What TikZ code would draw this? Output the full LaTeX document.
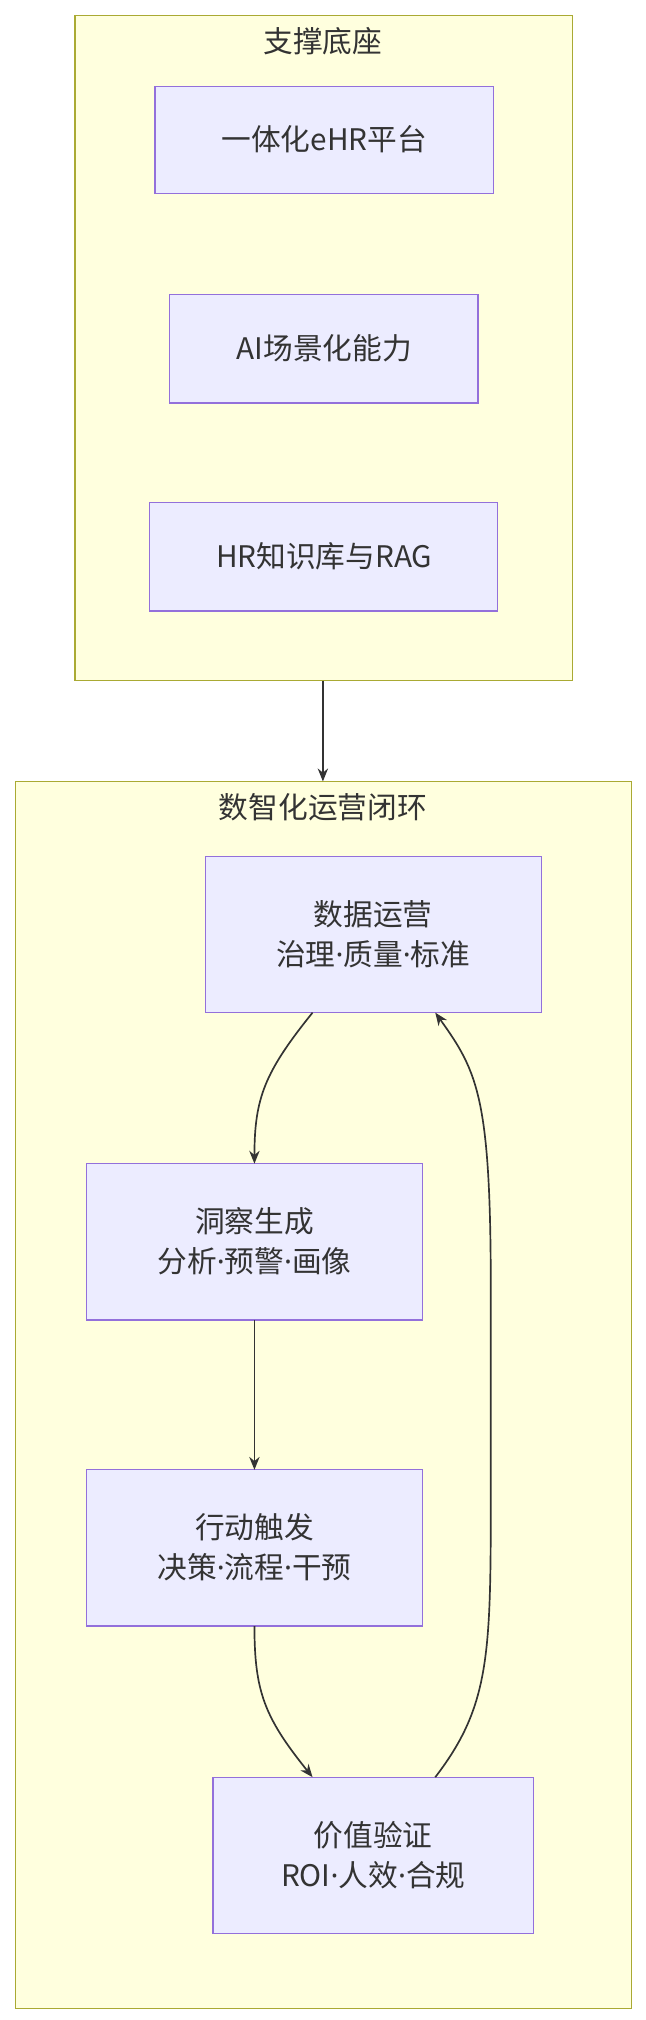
\documentclass[tikz,border=0pt]{standalone}
\usepackage{fontspec}
\setmainfont{Noto Sans CJK SC}
\newfontfamily\lsf{Noto Sans}
\newcommand{\dt}{{\lsf ·}}
\usetikzlibrary{arrows.meta}
\definecolor{cfill}{HTML}{FFFFDE}\definecolor{cline}{HTML}{AAAA33}
\definecolor{nfill}{HTML}{ECECFF}\definecolor{nline}{HTML}{9370DB}
\definecolor{tx}{HTML}{333333}
\begin{document}
\begin{tikzpicture}[x=1pt,y=-1pt,
 clu/.style={draw=cline,fill=cfill,line width=1pt},
 nd/.style={draw=nline,fill=nfill,line width=1pt},
 lab/.style={text=tx,font=\fontsize{23}{31}\selectfont,align=center},
 arr/.style={draw=tx,line width=1.3pt,-{Stealth[length=10pt,width=8pt]}}]
\useasboundingbox (0,0) rectangle (500,1564);
\draw[clu] (58,12) rectangle (443,527);
\node[lab] (t1) at (250,32) {支撑底座};
\draw[nd] (120,67) rectangle (382,150); \node[lab] (a) at (251,108) {一体化eHR平台};
\draw[nd] (131,228) rectangle (370,312); \node[lab] (b) at (251,270) {AI场景化能力};
\draw[nd] (116,389) rectangle (385,473); \node[lab] (c) at (251,431) {HR知识库与RAG};
\draw[clu] (12,605) rectangle (489,1555);
\node[lab] (t2) at (250,625) {数智化运营闭环};
\draw[nd] (159,663) rectangle (419,784); \node[lab] (d) at (289,723) {数据运营\\治理\dt 质量\dt 标准};
\draw[nd] (67,901) rectangle (327,1022); \node[lab] (e) at (197,961) {洞察生成\\分析\dt 预警\dt 画像};
\draw[nd] (67,1138) rectangle (327,1259); \node[lab] (f) at (197,1198) {行动触发\\决策\dt 流程\dt 干预};
\draw[nd] (165,1376) rectangle (413,1497); \node[lab] (g) at (289,1436) {价值验证\\ROI\dt 人效\dt 合规};
\coordinate (c1b) at (250,527); \coordinate (c2t) at (250,605);
\coordinate (db) at (242,784); \coordinate (et) at (197,901);
\coordinate (eb) at (197,1022); \coordinate (ft) at (197,1138);
\coordinate (fb) at (197,1259); \coordinate (gt) at (242,1376);
\coordinate (gt2) at (337,1376); \coordinate (db2) at (337,784);
\draw[arr] (c1b) -- (c2t);
\draw[arr] (db) .. controls (205,830) and (197,850) .. (et);
\draw[arr] (eb) -- (ft);
\draw[arr] (fb) .. controls (197,1310) and (205,1330) .. (gt);
\draw[arr] (gt2) .. controls (380,1320) and (380,1280) .. (380,1150) -- (380,1000) .. controls (380,850) and (370,830) .. (db2);
\end{tikzpicture}
\end{document}
